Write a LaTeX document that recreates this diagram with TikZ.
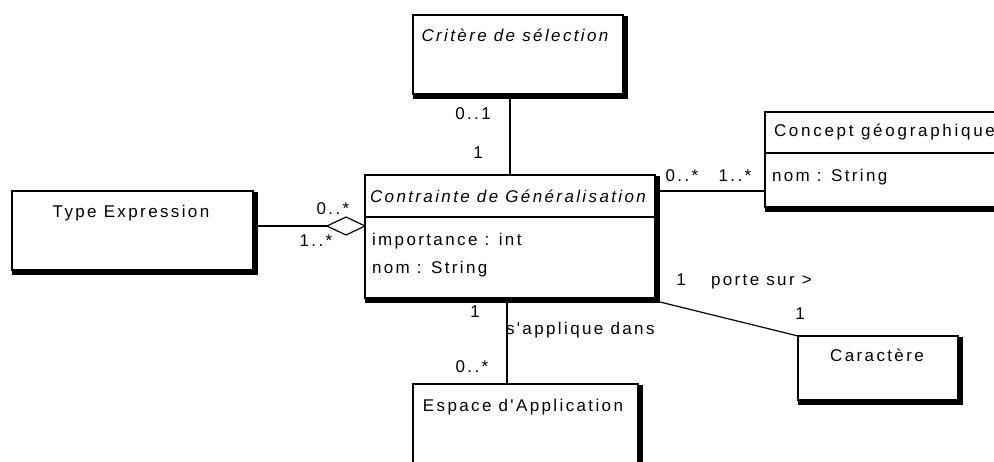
\documentclass[tikz,border=0pt]{standalone}
\usepackage{fontspec}
\setmainfont{Liberation Sans}[Ligatures=TeXOff, LetterSpace=14]
\usetikzlibrary{shapes.geometric,calc}
\tikzset{
  cls/.style={draw, line width=1.2pt, rectangle, inner sep=0pt, outer sep=0pt},
  txt/.style={inner sep=0pt, outer sep=0pt, font=\fontsize{17}{20}\selectfont},
  conn/.style={line width=1.2pt},
}
\begin{document}
\begin{tikzpicture}[x=1pt,y=-1pt]
\useasboundingbox (0,0) rectangle (994,462);
\clip (0,0) rectangle (994,462);
% class boxes
\node[cls, minimum width=210, minimum height=79] (crit) at (518,54.5) {};
\node[cls, minimum width=290, minimum height=123] (contr) at (510,236.5) {};
\node[cls, minimum width=241, minimum height=79] (typ) at (132.5,230.5) {};
\node[cls, minimum width=235, minimum height=95] (conc) at (882.5,159.5) {};
\node[cls, minimum width=225, minimum height=96] (esp) at (525.5,432) {};
\node[cls, minimum width=160, minimum height=64] (car) at (878,368) {};
% thick right / bottom edges
\foreach \n in {crit,contr,typ,conc,esp,car}{
  \fill ([yshift=-0.6pt]\n.north east) rectangle ($(\n.south east)+(5,5)$);
  \fill (\n.south west) rectangle ($(\n.south east)+(5,5)$);
}
% compartment separators
\draw[conn] ($(contr.north west)+(0,42)$) -- ($(contr.north east)+(0,42)$);
\draw[conn] ($(conc.north west)+(0,41)$) -- ($(conc.north east)+(0,41)$);
% texts in boxes
\node[txt, anchor=base] (critT) at (515,42) {\itshape Critère de sélection};
\node[txt, anchor=base] (contrT) at (508,203) {\itshape Contrainte de Généralisation};
\node[txt, anchor=base west] (contrA1) at (372,246) {importance : int};
\node[txt, anchor=base west] (contrA2) at (372,274) {nom : String};
\node[txt, anchor=base] (typT) at (131,218) {Type Expression};
\node[txt, anchor=base west] (concT) at (774,137) {\addfontfeature{LetterSpace=16}Concept géographique};
\node[txt, anchor=base west] (concA) at (772,182) {nom : String};
\node[txt, anchor=base] (espT) at (523,411) {Espace d'Application};
\node[txt, anchor=base] (carT) at (877,362) {Caractère};
% aggregation diamond
\node[draw, diamond, line width=1.2pt, inner sep=0pt, outer sep=0pt, minimum width=38, minimum height=18, fill=white] (dia) at (346,226) {};
% connectors
\draw[conn] (contr.north) -- (contr.north |- crit.south);
\draw[conn] (dia.west) -- (dia.west -| typ.east);
\coordinate (cr) at ($(contr.north east)+(5,16)$);
\draw[conn] (cr) -- (cr -| conc.west);
\coordinate (cb) at ($(contr.south west)+(142,5)$);
\draw[conn] (cb) -- (cb |- esp.north);
\coordinate (cse) at ($(contr.south east)+(5,4)$);
\draw[conn] (cse) -- (car.north west);
% multiplicities and labels
\node[txt, anchor=base] (m1) at (473,120) {0..1};
\node[txt, anchor=base] (m2) at (478,159) {1};
\node[txt, anchor=base] (m3) at (333,215) {0..*};
\node[txt, anchor=base] (m4) at (316,247) {1..*};
\node[txt, anchor=base] (m5) at (682,182) {0..*};
\node[txt, anchor=base] (m6) at (735,182) {1..*};
\node[txt, anchor=base] (m7) at (475,318) {1};
\node[txt, anchor=base west] (l1) at (506,335) {s'applique dans};
\node[txt, anchor=base] (m8) at (472,373) {0..*};
\node[txt, anchor=base] (m9) at (681,286) {1};
\node[txt, anchor=base west] (l2) at (711,286) {porte sur >};
\node[txt, anchor=base] (m10) at (800,320) {1};
\end{tikzpicture}
\end{document}
